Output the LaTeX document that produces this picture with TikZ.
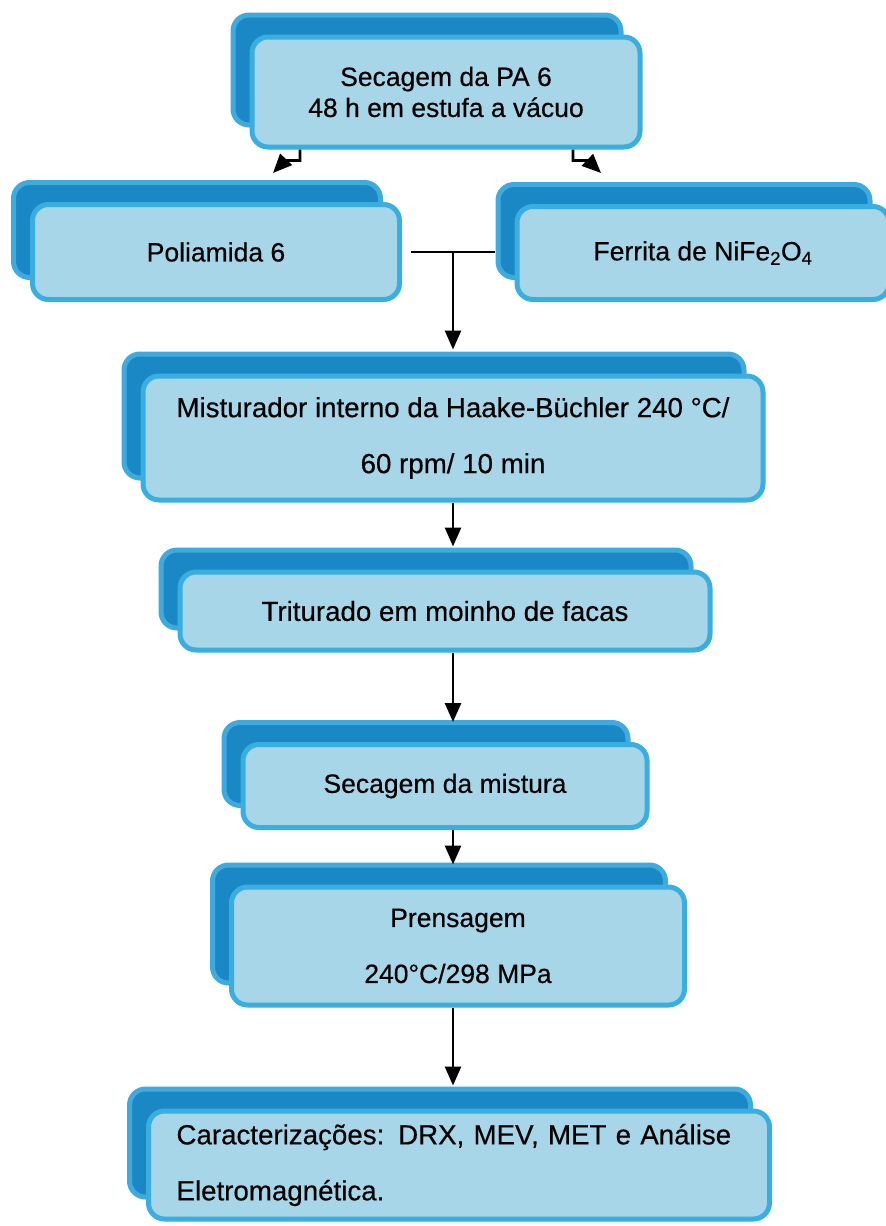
\documentclass[tikz,border=0pt]{standalone}
\usepackage{fontspec}
\setmainfont{Liberation Sans}
\newfontfamily\boxfont{Liberation Sans}[FakeBold=0.4]
\usetikzlibrary{arrows.meta,calc,shadows}
\definecolor{faceblue}{RGB}{166,214,231}
\definecolor{rimblue}{RGB}{58,174,222}
\definecolor{backblue}{RGB}{26,136,196}
\definecolor{backrim}{RGB}{62,170,222}
\tikzset{
  box/.style={draw=rimblue, line width=5pt, fill=faceblue, rounded corners=16pt,
    font=\boxfont\fontsize{26.5}{31}\selectfont, align=center, inner sep=0pt,
    copy shadow={shadow xshift=-19pt, shadow yshift=22pt, fill=backblue, draw=backrim, line width=5pt}},
  spaced/.style={font=\boxfont\fontsize{26.5}{56}\selectfont},
  large/.style={font=\boxfont\fontsize{27.7}{56}\selectfont},
  arr/.style={line width=2.7pt, -{Triangle[length=19pt, width=16pt]}},
  link/.style={line width=2.7pt}
}
\begin{document}
\begin{tikzpicture}[x=1pt, y=-1pt]
  \useasboundingbox (0,0) rectangle (886,1226);
  \node[box, minimum width=388pt, minimum height=110pt] (pa) at (446,92) {Secagem da PA 6\\48 h em estufa a vácuo};
  \node[box, minimum width=367pt, minimum height=95pt] (pol) at (216,252) {Poliamida 6};
  \node[box, minimum width=372pt, minimum height=93pt] (fer) at (703,253) {Ferrita de NiFe\textsubscript{2}O\textsubscript{4}};
  \node[box, large, minimum width=620pt, minimum height=124pt] (mix) at (453,438) {Misturador interno da Haake-Büchler 240 °C/\\60 rpm/ 10 min};
  \node[box, large, minimum width=530pt, minimum height=78pt] (tri) at (445,611) {Triturado em moinho de facas};
  \node[box, minimum width=404pt, minimum height=83pt] (sec) at (445,786) {Secagem da mistura};
  \node[box, spaced, minimum width=453pt, minimum height=118pt] (pre) at (458,946) {Prensagem\\240°C/298 MPa};
  \node[box, large, minimum width=621pt, minimum height=108pt, text width=565pt, align=left] (car) at (459,1165) {Caracterizações: DRX, MEV, MET e Análise\\Eletromagnética.};
  \coordinate (pin) at (273,173);
  \coordinate (fin) at (601,173);
  \draw[arr] ($(pa.south)+(-146,0)$) -- ++(0,11) -- ++(-15,0) -- (pin);
  \draw[arr] ($(pa.south)+(127,0)$) -- ++(0,11) -- ++(15,0) -- (fin);
  \draw[link] ($(pol.east)+(9,0)$) -- ($(pol.east -| fer.west)+(-20,0)$);
  \draw[arr] (pol.east -| mix.north) -- ($(mix.north)+(0,-24)$);
  \draw[arr] (mix.south) -- ($(mix.south |- tri.north)+(0,-23)$);
  \draw[arr] (mix.south |- tri.south) -- ($(mix.south |- sec.north)+(0,-20)$);
  \draw[arr] (mix.south |- sec.south) -- ($(mix.south |- pre.north)+(0,-20)$);
  \draw[arr] (mix.south |- pre.south) -- ($(mix.south |- car.north)+(0,-23)$);
\end{tikzpicture}
\end{document}
